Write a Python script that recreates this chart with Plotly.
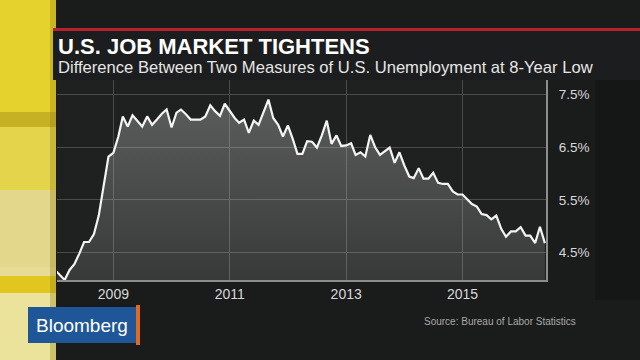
import pandas as pd
import plotly.graph_objects as go

# ---- data ----
months = pd.date_range("2008-01-01", "2016-06-01", freq="MS")
spread = [
    4.17, 4.08, 3.98, 4.17, 4.28, 4.48, 4.70, 4.70, 4.85, 5.20, 5.77, 6.32,   # 2008
    6.39, 6.70, 7.08, 6.89, 7.10, 7.00, 6.89, 7.08, 6.92, 7.02, 7.13, 7.21,   # 2009
    6.87, 7.15, 7.21, 7.12, 7.02, 7.02, 7.02, 7.08, 7.29, 7.18, 7.09, 7.32,   # 2010
    7.18, 7.05, 6.96, 7.02, 6.77, 7.00, 6.92, 7.15, 7.40, 7.05, 6.92, 6.70,   # 2011
    6.91, 6.65, 6.37, 6.37, 6.61, 6.60, 6.49, 6.72, 7.00, 6.56, 6.72, 6.52,   # 2012
    6.53, 6.57, 6.35, 6.40, 6.32, 6.73, 6.50, 6.35, 6.42, 6.49, 6.20, 6.40,   # 2013
    6.15, 5.94, 5.91, 6.10, 5.90, 5.90, 6.01, 5.82, 5.80, 5.80, 5.66, 5.60,   # 2014
    5.60, 5.51, 5.42, 5.37, 5.23, 5.21, 5.13, 5.20, 4.95, 4.80, 4.90, 4.90,   # 2015
    4.98, 4.82, 4.82, 4.68, 4.99, 4.68,                                       # 2016
]
x_tick_vals = ["2009-01-01", "2011-01-01", "2013-01-01", "2015-01-01"]
x_tick_text = ["2009", "2011", "2013", "2015"]
y_tick_vals = [4.5, 5.5, 6.5, 7.5]
y_tick_text = ["4.5%", "5.5%", "6.5%", "7.5%"]

title = "U.S. JOB MARKET TIGHTENS"
subtitle = "Difference Between Two Measures of U.S. Unemployment at 8-Year Low"
source = "Source: Bureau of Labor Statistics"
brand = "Bloomberg"

# ---- geometry helpers (pixel -> paper) ----
W, H = 640, 360
L, R, T, B = 57, 546, 80, 280


def fx(px):
    return (px - L) / (R - L)


def fy(py):
    return (B - py) / (B - T)


FONT = "Liberation Sans, Arial, sans-serif"

fig = go.Figure()
fig.add_trace(go.Scatter(
    x=months, y=spread, mode="lines",
    line=dict(color="#f4f4f4", width=2.2),
    fill="tozeroy",
    fillgradient=dict(
        type="vertical",
        colorscale=[[0, "rgba(205,210,205,0.14)"], [1, "rgba(205,210,205,0.34)"]],
        start=3.98, stop=7.4,
    ),
    hoverinfo="skip", showlegend=False,
))

shapes = []


def rect(x0, y0, x1, y1, color, layer="above"):
    shapes.append(dict(type="rect", xref="paper", yref="paper",
                       x0=fx(x0), x1=fx(x1), y0=fy(y1), y1=fy(y0),
                       fillcolor=color, line=dict(width=0), layer=layer))


# right darker area
rect(595, 80, 640, 300, "#151616")
# yellow strip on the left
rect(0, 0, 56, 112, "#e6d22c")
rect(0, 112, 56, 127, "#c6b125")
rect(0, 127, 56, 190, "#e4d44c")
rect(0, 190, 56, 267, "#e2d78a")
rect(0, 267, 56, 276, "#e6dc96")
rect(0, 276, 56, 293, "#e0c61e")
rect(0, 293, 56, 360, "#ebe39c")
rect(50, 0, 56, 360, "rgba(150,130,20,0.35)")
# title band + red rule
rect(53, 28, 640, 31, "#b8232b")
rect(53, 31, 640, 80, "#1c1d1e")
# Bloomberg logo
rect(28, 307, 136, 343, "#1f5697")
rect(136, 305, 140, 345, "#de6b22")

annotations = [
    dict(text="<b>" + title + "</b>", x=fx(56), y=fy(47), xref="paper", yref="paper",
         xanchor="left", yanchor="middle", showarrow=False,
         font=dict(family=FONT, size=22, color="#ffffff")),
    dict(text=subtitle, x=fx(56), y=fy(68), xref="paper", yref="paper",
         xanchor="left", yanchor="middle", showarrow=False,
         font=dict(family=FONT, size=16.6, color="#e6e6e6")),
    dict(text=source, x=fx(578), y=fy(321), xref="paper", yref="paper",
         xanchor="right", yanchor="middle", showarrow=False,
         font=dict(family=FONT, size=10, color="#a9a9a9")),
    dict(text=brand, x=fx(82), y=fy(325), xref="paper", yref="paper",
         xanchor="center", yanchor="middle", showarrow=False,
         font=dict(family=FONT, size=19, color="#ffffff")),
]

fig.update_layout(
    width=W, height=H,
    margin=dict(l=L, r=W - R, t=T, b=H - B),
    paper_bgcolor="#1a1b1b",
    plot_bgcolor="#1f2121",
    shapes=shapes,
    annotations=annotations,
    showlegend=False,
    xaxis=dict(
        type="date",
        range=["2008-01-13", "2016-06-08"],
        tickvals=x_tick_vals, ticktext=x_tick_text,
        showgrid=True, gridcolor="#4a4c4c", gridwidth=1,
        showline=True, linecolor="#8c8e8e", linewidth=2,
        ticks="", tickfont=dict(family=FONT, size=14, color="#d8d8d8"),
        zeroline=False, fixedrange=True,
    ),
    yaxis=dict(
        side="right",
        range=[3.98, 7.77],
        tickvals=y_tick_vals, ticktext=y_tick_text,
        showgrid=True, gridcolor="#4a4c4c", gridwidth=1,
        showline=True, linecolor="#8c8e8e", linewidth=2,
        ticks="", ticklabelstandoff=8,
        tickfont=dict(family=FONT, size=13.5, color="#d8d8d8"),
        zeroline=False, fixedrange=True,
    ),
)

fig.write_html(
    "out.html",
    config={"displayModeBar": False, "staticPlot": True},
    post_script="document.body.style.margin='0';document.body.style.background='#1a1b1b';",
)
